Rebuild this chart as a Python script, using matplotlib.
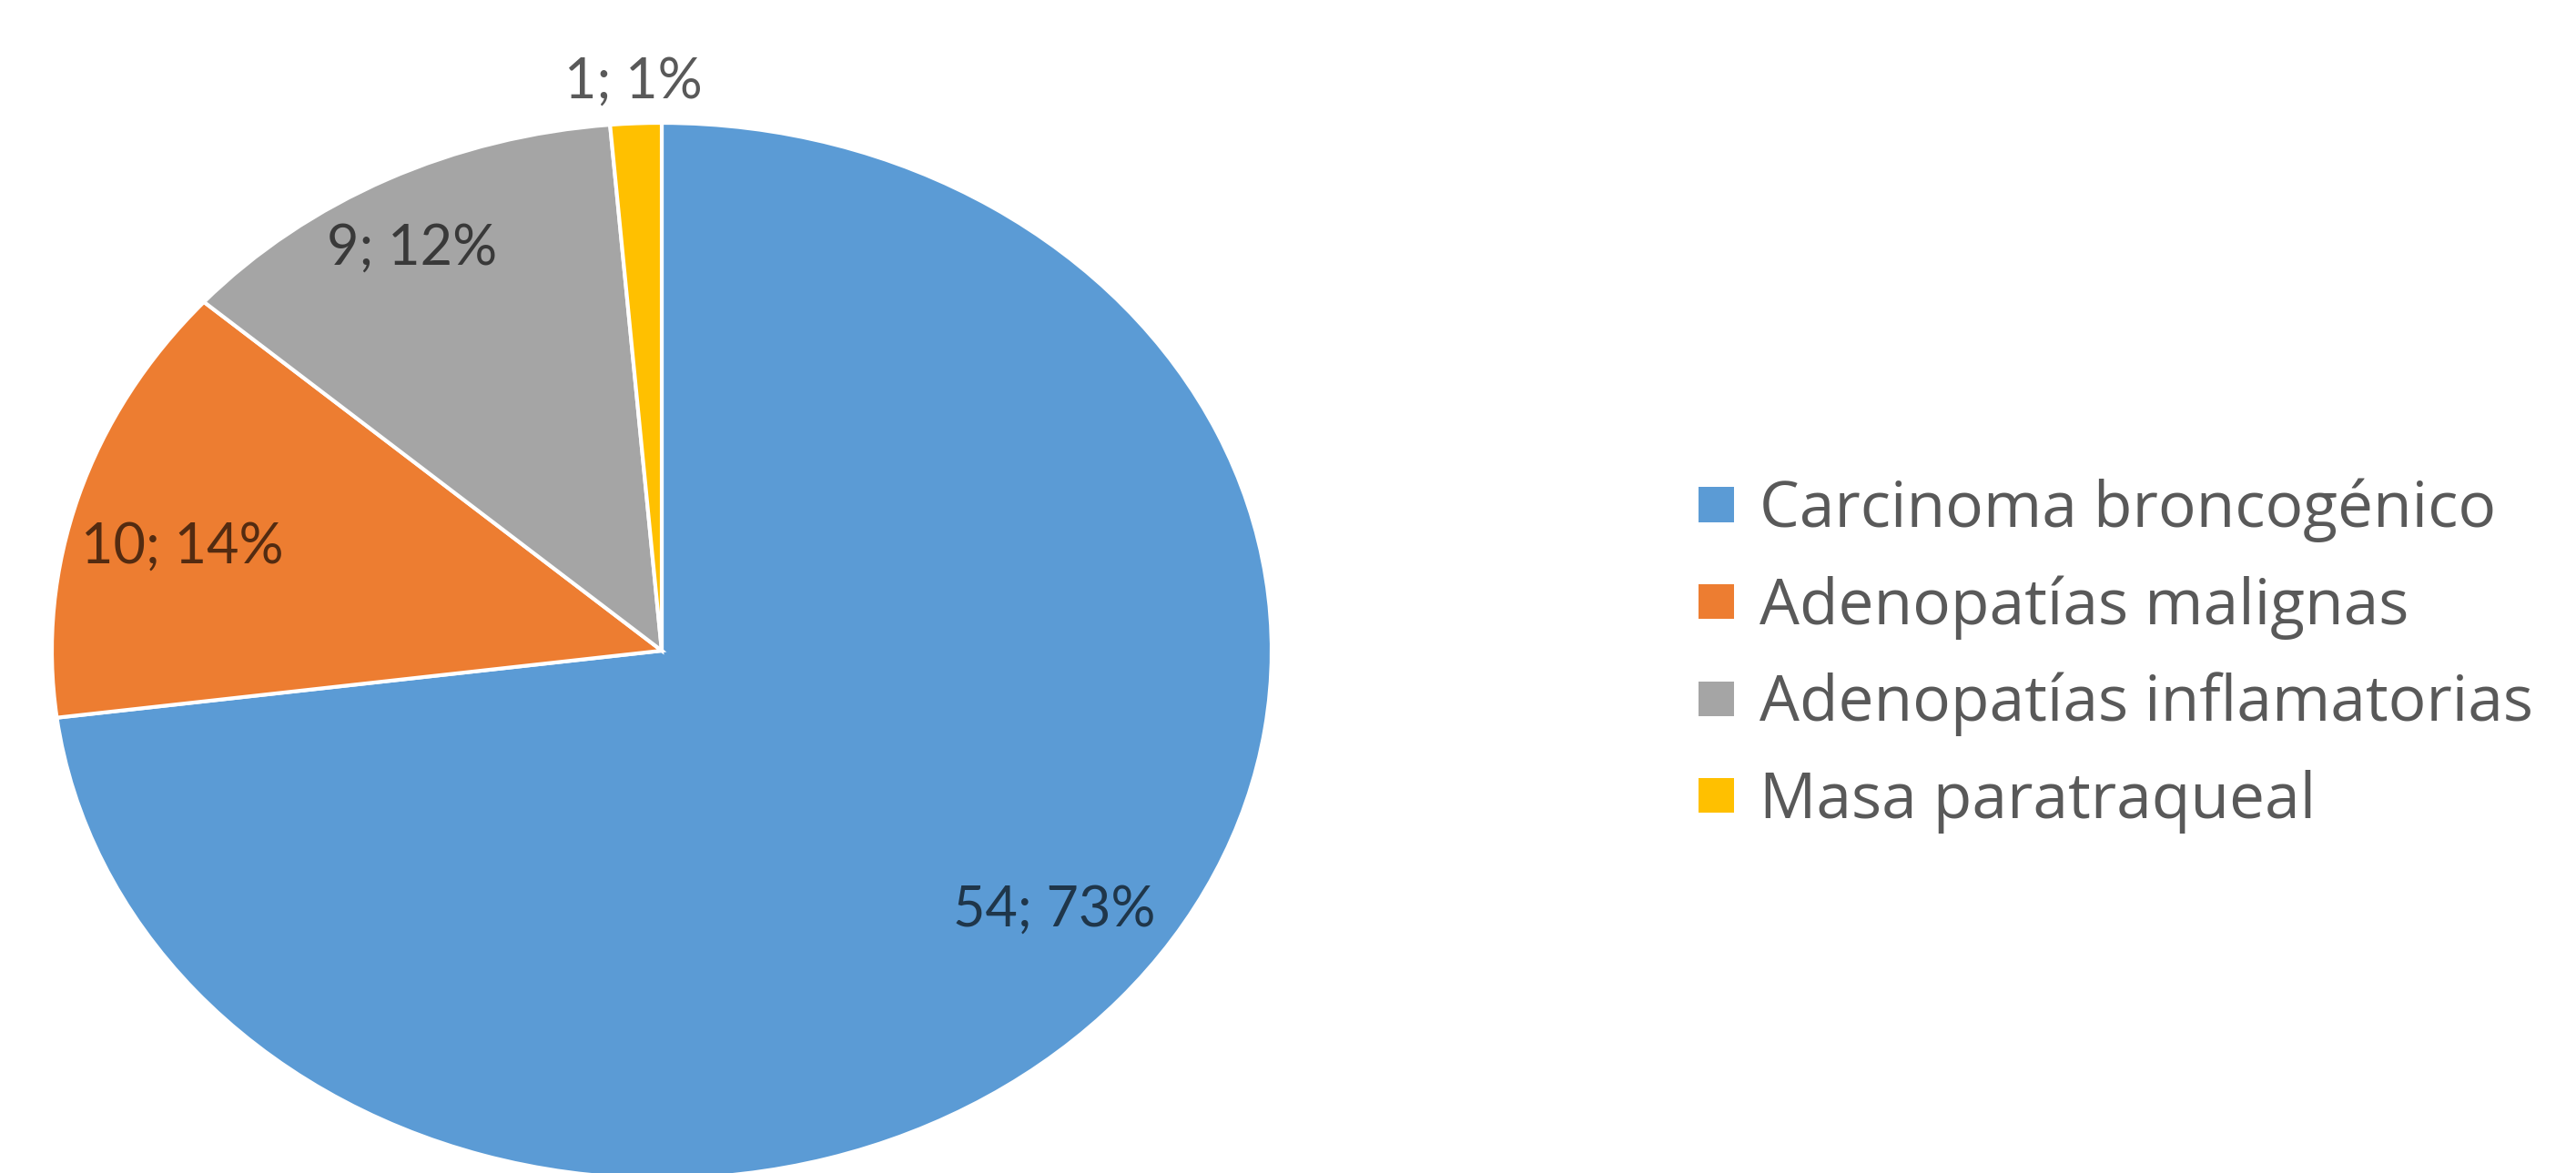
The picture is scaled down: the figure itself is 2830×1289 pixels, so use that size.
import matplotlib
matplotlib.use("Agg")
import matplotlib.pyplot as plt
import numpy as np

categories = ["Carcinoma broncogénico", "Adenopatías malignas",
              "Adenopatías inflamatorias", "Masa paratraqueal"]
counts = [54, 10, 9, 1]
percent_labels = ["73%", "14%", "12%", "1%"]
colors = ["#5B9BD5", "#ED7D31", "#A5A5A5", "#FFC000"]
label_radius = [0.81, 0.81, 0.865, 1.078]
label_angle_shift = [4.0, 3.0, 1.5, 0.0]

plt.rcParams['font.family'] = ['Lato', 'DejaVu Sans']

fig = plt.figure(figsize=(28.30, 12.89), dpi=100)
ax = fig.add_axes([0.02014, -0.00465, 0.4735, 0.8999])

wedges, _ = ax.pie(counts, colors=colors, startangle=90, counterclock=False,
                   wedgeprops=dict(edgecolor="white", linewidth=3.0))
ax.set_aspect('auto')
ax.set_xlim(-1, 1)
ax.set_ylim(-1, 1)
ax.axis('off')

for w, c, p, r, s in zip(wedges, counts, percent_labels, label_radius, label_angle_shift):
    th = np.deg2rad((w.theta1 + w.theta2) / 2 + s)
    ax.text(r * np.cos(th), r * np.sin(th), f"{c}; {p}", ha="center", va="center",
            fontsize=44, color="black", alpha=0.65, clip_on=False)

leg = fig.legend(wedges, categories, loc="center left",
                 bbox_to_anchor=(0.6594, 0.441), frameon=False,
                 prop={'family': ['Open Sans', 'DejaVu Sans'], 'size': 50},
                 handlelength=0.56, handleheight=0.475,
                 handletextpad=0.40, labelspacing=0.52,
                 borderpad=0, borderaxespad=0, labelcolor="#595959")
for h in leg.legend_handles:
    h.set_linewidth(0)

fig.savefig("out.png", dpi=100, facecolor="white")
